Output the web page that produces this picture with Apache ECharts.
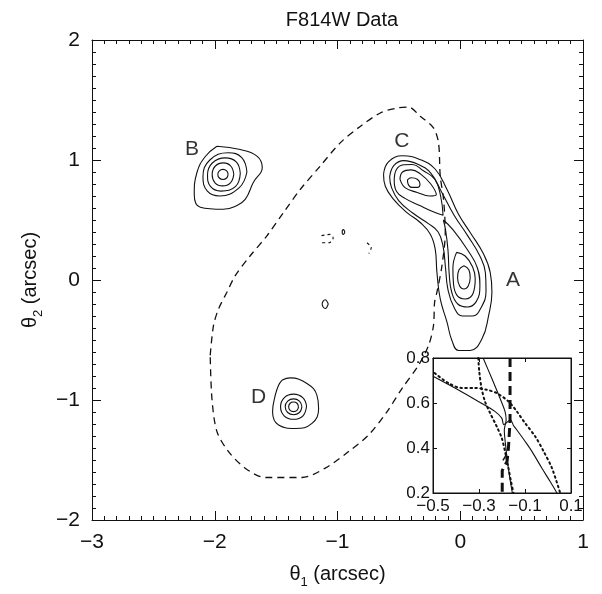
<!DOCTYPE html>
<html><head><meta charset="utf-8">
<script src="https://cdn.jsdelivr.net/npm/echarts@6/dist/echarts.min.js"></script>
<style>html,body{margin:0;padding:0;background:#fff}#c{width:602px;height:594px}</style>
</head><body><div id="c"></div>
<script>
// ---- main panel: contour levels (theta1, theta2 in arcsec) ----
var B1 = [[-1.891,0.880],[-1.903,0.910],[-1.933,0.922],[-1.963,0.910],[-1.975,0.880],[-1.963,0.850],[-1.933,0.838],[-1.903,0.850],[-1.891,0.880]];
var B2 = [[-1.845,0.880],[-1.870,0.950],[-1.930,0.976],[-1.995,0.950],[-2.021,0.880],[-1.998,0.810],[-1.936,0.784],[-1.872,0.810],[-1.845,0.880]];
var B3 = [[-1.792,0.890],[-1.825,0.985],[-1.915,1.018],[-2.020,0.975],[-2.059,0.875],[-2.035,0.780],[-1.950,0.741],[-1.830,0.780],[-1.792,0.890]];
var B4 = [[-1.738,0.900],[-1.780,1.020],[-1.890,1.060],[-2.040,1.000],[-2.096,0.860],[-2.060,0.740],[-1.960,0.700],[-1.800,0.770],[-1.738,0.900]];
var B5 = [[-1.982,1.115],[-1.792,1.087],[-1.656,1.032],[-1.613,0.938],[-1.686,0.813],[-1.752,0.672],[-1.833,0.614],[-1.931,0.589],[-2.118,0.606],[-2.167,0.714],[-2.145,0.896],[-2.077,1.029],[-1.982,1.115]];

var D1 = [[-1.318,-1.057],[-1.330,-1.027],[-1.358,-1.017],[-1.386,-1.027],[-1.398,-1.057],[-1.386,-1.087],[-1.358,-1.097],[-1.330,-1.087],[-1.318,-1.057]];
var D2 = [[-1.290,-1.057],[-1.310,-1.010],[-1.358,-0.991],[-1.406,-1.010],[-1.426,-1.057],[-1.406,-1.104],[-1.358,-1.123],[-1.310,-1.104],[-1.290,-1.057]];
var D3 = [[-1.252,-1.050],[-1.283,-0.980],[-1.358,-0.951],[-1.433,-0.980],[-1.464,-1.057],[-1.433,-1.134],[-1.358,-1.161],[-1.283,-1.134],[-1.252,-1.050]];
var D4 = [[-1.453,-0.836],[-1.385,-0.816],[-1.249,-0.863],[-1.168,-0.960],[-1.154,-1.071],[-1.208,-1.195],[-1.344,-1.237],[-1.480,-1.209],[-1.529,-1.098],[-1.507,-0.960],[-1.480,-0.877],[-1.453,-0.836]];

var CA5 = [[-0.625,0.880],[-0.585,0.985],[-0.470,1.035],[-0.330,1.005],[-0.205,0.925],[-0.108,0.755],[-0.014,0.548],[0.081,0.396],[0.190,0.216],[0.244,0.064],[0.258,-0.102],[0.231,-0.296],[0.177,-0.490],[0.081,-0.587],[-0.014,-0.587],[-0.068,-0.504],[-0.108,-0.351],[-0.163,-0.158],[-0.190,0.064],[-0.204,0.257],[-0.244,0.382],[-0.326,0.479],[-0.434,0.562],[-0.543,0.672],[-0.611,0.783],[-0.625,0.880]];
var CA4 = [[-0.575,0.860],[-0.540,0.955],[-0.460,0.995],[-0.345,0.965],[-0.240,0.890],[-0.150,0.730],[-0.050,0.540],[0.060,0.370],[0.160,0.200],[0.205,0.060],[0.210,-0.090],[0.170,-0.230],[0.100,-0.300],[0.020,-0.300],[-0.050,-0.230],[-0.100,-0.080],[-0.120,0.100],[-0.140,0.280],[-0.180,0.400],[-0.260,0.470],[-0.390,0.560],[-0.500,0.660],[-0.560,0.770],[-0.575,0.860]];
var C3 = [[-0.538,0.830],[-0.520,0.920],[-0.460,0.960],[-0.390,0.963],[-0.300,0.910],[-0.206,0.838],[-0.160,0.700],[-0.140,0.540],[-0.200,0.560],[-0.330,0.620],[-0.450,0.680],[-0.520,0.740],[-0.538,0.830]];
var C2 = [[-0.491,0.840],[-0.470,0.900],[-0.400,0.918],[-0.320,0.880],[-0.240,0.800],[-0.195,0.710],[-0.250,0.700],[-0.350,0.730],[-0.450,0.770],[-0.491,0.840]];
var C1 = [[-0.430,0.835],[-0.400,0.852],[-0.350,0.840],[-0.328,0.800],[-0.350,0.772],[-0.395,0.772],[-0.425,0.800],[-0.430,0.835]];
var A3 = [[-0.138,0.500],[-0.060,0.420],[0.060,0.250],[0.140,0.100],[0.160,-0.050],[0.130,-0.180],[0.060,-0.225],[-0.020,-0.200],[-0.070,-0.100],[-0.090,0.050],[-0.100,0.250],[-0.120,0.420],[-0.138,0.500]];
var A2 = [[-0.030,0.230],[0.040,0.200],[0.100,0.110],[0.122,0.010],[0.105,-0.110],[0.040,-0.158],[-0.025,-0.130],[-0.055,-0.030],[-0.060,0.100],[-0.030,0.230]];
var A1 = [[0.030,0.119],[0.070,0.085],[0.081,0.020],[0.065,-0.050],[0.030,-0.075],[-0.005,-0.050],[-0.022,0.020],[-0.010,0.085],[0.030,0.119]];

var blobG = [[-1.075,-0.200],[-1.100,-0.165],[-1.125,-0.200],[-1.100,-0.238],[-1.075,-0.200]];
var blobH = [[-0.940,0.400],[-0.951,0.420],[-0.962,0.400],[-0.951,0.380],[-0.940,0.400]];
var dashBit1 = [[-1.130,0.370],[-1.060,0.380],[-1.035,0.350],[-1.070,0.310],[-1.130,0.310]];
var dashBit2 = [[-0.760,0.310],[-0.725,0.270],[-0.745,0.220]];

// critical curve (dashed)
var critical = [[-2.037,-0.628],[-2.010,-0.379],[-1.969,-0.241],[-1.901,-0.102],[-1.833,0.036],[-1.711,0.202],[-1.575,0.368],[-1.440,0.562],[-1.303,0.755],[-1.141,0.949],[-0.978,1.143],[-0.815,1.280],[-0.652,1.392],[-0.516,1.433],[-0.421,1.441],[-0.326,1.364],[-0.218,1.267],[-0.177,1.143],[-0.163,0.866],[-0.136,0.672],[-0.122,0.396],[-0.149,0.119],[-0.190,-0.102],[-0.209,-0.185],[-0.218,-0.379],[-0.258,-0.545],[-0.340,-0.711],[-0.475,-0.905],[-0.597,-1.098],[-0.747,-1.292],[-0.910,-1.430],[-1.100,-1.568],[-1.290,-1.646],[-1.589,-1.646],[-1.752,-1.568],[-1.888,-1.430],[-1.982,-1.264],[-2.023,-0.988],[-2.037,-0.628]];

var imageLabels = [[0.43,0.00,'A'],[-2.186,1.087,'B'],[-0.475,1.156,'C'],[-1.643,-0.973,'D']];

// ---- inset panel ----
var insetSolid1 = [[-0.282,0.80],[-0.245,0.711],[-0.209,0.622],[-0.187,0.563],[-0.182,0.525],[-0.190,0.480],[-0.183,0.400],[-0.175,0.330],[-0.165,0.260],[-0.155,0.20]];
var insetSolid2 = [[-0.500,0.719],[-0.391,0.659],[-0.303,0.607],[-0.231,0.563],[-0.201,0.533],[-0.192,0.504],[-0.163,0.525],[-0.150,0.500],[-0.136,0.481],[-0.100,0.430],[-0.070,0.385],[-0.027,0.311],[0.010,0.250],[0.039,0.20]];
var insetSlash = [[-0.196,0.345],[-0.180,0.372]];
var insetDot1 = [[-0.303,0.80],[-0.299,0.741],[-0.289,0.667],[-0.274,0.607],[-0.252,0.556],[-0.223,0.496],[-0.201,0.444],[-0.187,0.385],[-0.172,0.311],[-0.161,0.252],[-0.150,0.20]];
var insetDot2 = [[-0.493,0.733],[-0.434,0.689],[-0.376,0.667],[-0.318,0.667],[-0.267,0.659],[-0.223,0.644],[-0.172,0.607],[-0.136,0.563],[-0.100,0.511],[-0.056,0.452],[-0.019,0.385],[0.017,0.311],[0.053,0.20]];
var insetDash = [[-0.165,0.80],[-0.165,0.52],[-0.172,0.40],[-0.178,0.34],[-0.199,0.30],[-0.199,0.20]];

var mainXTicks = {min:-3, max:1, interval:1};
var mainYTicks = {min:-2, max:2, interval:1};
var insetXTicks = {min:-0.5, max:0.1, interval:0.2};
var insetYTicks = {min:0.2, max:0.8, interval:0.2};

var FONT = '"Liberation Sans", Arial, Helvetica, sans-serif';
var INK = '#111';
function fmtInt(v){ return (v < 0 ? '\u2212' : '') + Math.abs(v); }
function fmtDec(v){ var a = Math.abs(v).toFixed(1); return (v < -1e-9 ? '\u2212' : '') + a; }

function axis(kind, grid, pos, rng, labels, big, fmt) {
  return {
    type:'value', gridIndex:grid, position:pos, min:rng.min, max:rng.max, interval:rng.interval,
    axisLine:{show:true, onZero:false, lineStyle:{color:INK, width:1}},
    axisTick:{show:true, inside:true, length: big ? 9 : 4, lineStyle:{color:INK, width:1}},
    minorTick:{show: big, splitNumber:10, length:4, lineStyle:{color:INK, width:1}},
    splitLine:{show:false}, minorSplitLine:{show:false},
    axisLabel:{show:labels, color:INK, fontFamily:FONT, fontSize: big ? 21 : 17,
      margin: big ? 12 : (kind === 'y' ? 3 : 5), formatter: fmt, showMinLabel:true, showMaxLabel:true}
  };
}

var nameRich = {
  n:{fontSize:20, fontFamily:FONT, color:INK, lineHeight:22, verticalAlign:'top'},
  s:{fontSize:13, fontFamily:FONT, color:INK, lineHeight:13, padding:[12,0,0,0], verticalAlign:'top'}
};

var xMain = axis('x',0,'bottom',mainXTicks,true,true,fmtInt);
xMain.name = '{n|\u03b8}{s|1}{n| (arcsec)}';
xMain.nameLocation = 'middle'; xMain.nameGap = 44;
xMain.nameTextStyle = {rich:nameRich};
var yMain = axis('y',0,'left',mainYTicks,true,true,fmtInt);
yMain.name = '{n|\u03b8}{s|2}{n| (arcsec)}';
yMain.nameLocation = 'middle'; yMain.nameGap = 48;
yMain.nameTextStyle = {rich:nameRich};

function line(data, xi, yi, style, smooth) {
  return {type:'line', data:data, xAxisIndex:xi, yAxisIndex:yi, symbol:'none', silent:true,
    smooth: smooth === undefined ? 0.45 : smooth, animation:false, lineStyle:style, z: xi === 2 ? 7 : 3};
}
var solid = {color:INK, width:1.1, type:'solid'};
var dashed = {color:INK, width:1.3, type:[7,5]};

var series = [];
[B1,B2,B3,B4,B5,D1,D2,D3,D4,CA5,CA4,C3,C2,C1,A3,A2,A1,blobG,blobH].forEach(function(c){ series.push(line(c,0,0,solid)); });
series.push(line(critical,0,0,dashed,0.3));
series.push(line(dashBit1,0,0,{color:INK,width:1.1,type:[3,3]},0.3));
series.push(line(dashBit2,0,0,{color:INK,width:1.1,type:[3,3]},0.3));
series.push({type:'scatter', xAxisIndex:0, yAxisIndex:0, symbolSize:0, silent:true, animation:false,
  itemStyle:{color:INK},
  data:imageLabels, label:{show:true, position:'inside', formatter:function(p){return p.data[2];},
  fontFamily:FONT, fontSize:21, color:'#000', textBorderWidth:0}});
// inset
series.push(line(insetSolid1,2,2,{color:INK,width:1.1},0.3));
series.push(line(insetSolid2,2,2,{color:INK,width:1.1},0.3));
series.push(line(insetSlash,2,2,{color:INK,width:1.5},0));
series.push(line(insetDot1,2,2,{color:INK,width:2,type:[1.6,3.4],cap:'round'},0.3));
series.push(line(insetDot2,2,2,{color:INK,width:2,type:[1.6,3.4],cap:'round'},0.3));
series.push(line(insetDash,2,2,{color:INK,width:3,type:[9,5]},0));

var option = {
  backgroundColor:'#fff',
  animation:false,
  title:{text:'F814W Data', left:337, top:5, textAlign:'center',
    textStyle:{fontFamily:FONT, fontSize:20, fontWeight:'normal', color:INK}},
  grid:[
    {left:92, top:40, width:491, height:482, show:false},
    {left:433, top:358, width:138, height:135, show:true, backgroundColor:'#fff', borderColor:INK, borderWidth:1, z:5}
  ],
  xAxis:[
    xMain,
    axis('x',0,'top',mainXTicks,false,true,fmtInt),
    Object.assign(axis('x',1,'bottom',insetXTicks,true,false,fmtDec),{z:6}),
    Object.assign(axis('x',1,'top',insetXTicks,false,false,fmtDec),{z:6})
  ],
  yAxis:[
    yMain,
    axis('y',0,'right',mainYTicks,false,true,fmtInt),
    Object.assign(axis('y',1,'left',insetYTicks,true,false,fmtDec),{z:6}),
    Object.assign(axis('y',1,'right',insetYTicks,false,false,fmtDec),{z:6})
  ],
  series:series
};
var chart = echarts.init(document.getElementById('c'), null, {renderer:'canvas'});
chart.setOption(option);
</script></body></html>
